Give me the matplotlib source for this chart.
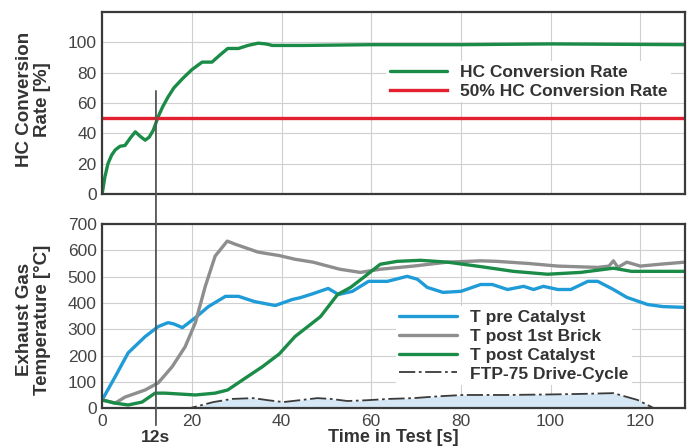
import numpy as np
import matplotlib.pyplot as plt
from matplotlib.patches import ConnectionPatch

plt.rcParams['font.family'] = ['Liberation Sans', 'DejaVu Sans']

# HC conversion rate over the test
t_hc = [0, 0.6, 1.3, 2.1, 2.9, 4, 5.1, 6.3, 7.4, 8.5, 9.6, 10.5, 11.4, 12.5, 13.5, 14.7, 16,
        17.9, 20, 22.3, 24.5, 26, 28, 30.4, 32.5, 34.8, 36.5, 38, 45, 60, 80, 100, 130]
hc_rate = [0, 11, 20, 25.5, 29, 31.5, 32, 37, 41, 38, 35.5, 37.5, 42, 51, 57.5, 64, 70,
           76, 82, 87, 87, 91, 96, 96, 98, 99.5, 99, 98, 98, 98.5, 98.5, 99, 98.5]
hc_target = 50

# exhaust gas temperatures
t_pre = [0, 2.9, 5.8, 9.6, 12.5, 14.7, 16, 17.9, 20.8, 23.7, 27.5, 30.4, 34, 38.6, 42.4,
         44.2, 47, 50.4, 52.7, 55.8, 59.4, 63.6, 68, 70.3, 72.5, 76, 80, 84.4, 87, 90.4,
         94, 96.2, 98.4, 101.6, 104.5, 108.3, 110.5, 114, 117, 121.6, 125, 130]
T_pre = [31, 119, 210, 272, 310, 325, 320, 306, 344, 386, 425, 425, 405, 390, 413,
         420, 435, 455, 432, 444, 482, 482, 501, 490, 459, 440, 444, 470, 470, 451,
         463, 451, 463, 451, 451, 482, 482, 451, 421, 394, 386, 383]

t_brick = [0, 2.9, 5.1, 9.6, 12.5, 15.6, 18.5, 20.8, 23, 25.2, 27.9, 29.7, 34.8, 39.5,
           43, 47, 53, 57.6, 62, 69.4, 77, 84.4, 88, 95, 101.6, 110.5, 113, 114, 115,
           117, 120, 125, 130]
T_brick = [31, 19, 42, 69, 96, 157, 233, 325, 463, 578, 635, 623, 593, 580,
           566, 555, 528, 516, 528, 540, 555, 560, 558, 550, 540, 535, 540, 560, 535,
           555, 540, 548, 555]

t_post = [0, 2.9, 5.8, 8.9, 11.8, 14, 20.8, 25.2, 28, 32, 35.7, 39.5, 43, 48.7, 52.5,
          55.4, 58.3, 62, 65.8, 71, 77, 84.4, 91.7, 99.3, 106.7, 114, 118, 130]
T_post = [31, 19, 12, 23, 57, 57, 50, 57, 69, 115, 157, 206, 272, 348, 432,
          459, 497, 547, 558, 562, 555, 538, 520, 509, 516, 532, 520, 520]

# FTP-75 drive cycle (scaled)
t_ftp = [0, 19.6, 24.8, 29, 33.7, 37, 40.4, 44, 48, 51, 54.7, 59, 64, 69.4, 75, 80.6,
         90, 100, 106.7, 114, 119.4, 123]
ftp = [0, 0, 23, 35, 38, 30, 23, 30, 38, 35, 27, 30, 35, 38, 45, 50,
       50, 52, 54, 57, 31, 0]

t_mark = 12

green = '#1b8c47'
red = '#e3202f'
blue = '#1f9bd7'
grey = '#8e8e8e'
dark = '#3a3a3a'
txt_col = '#333333'

fig = plt.figure(figsize=(6.9, 4.48), dpi=100)
ax1 = fig.add_axes([0.148, 0.567, 0.845, 0.406])
ax2 = fig.add_axes([0.148, 0.089, 0.845, 0.411])

for ax in (ax1, ax2):
    ax.set_xlim(0, 130)
    ax.set_xticks(np.arange(0, 140, 20))
    ax.grid(True, color='#cfcfcf', linewidth=0.8)
    ax.set_axisbelow(True)
    for s in ax.spines.values():
        s.set_linewidth(1.6)
        s.set_color(dark)
    ax.tick_params(length=0, labelsize=12.5, labelcolor='#444444', pad=4)

line_kw = dict(lw=2.4, solid_joinstyle='round', solid_capstyle='round')
leg_kw = dict(loc='center left', frameon=True, edgecolor='none', facecolor='white',
              framealpha=1, fancybox=False, handlelength=3.3, handletextpad=0.75,
              labelspacing=0.22, borderpad=0.2, borderaxespad=0,
              prop={'weight': 'bold', 'size': 12.5})

# top: conversion rate
ax1.plot(t_hc, hc_rate, color=green, label='HC Conversion Rate', **line_kw)
ax1.axhline(hc_target, color=red, lw=2.4, label='50% HC Conversion Rate')
ax1.set_ylim(0, 120)
ax1.set_yticks(np.arange(0, 120, 20))
ax1.set_xticklabels([])
ax1.set_ylabel('HC Conversion\nRate [%]', fontsize=13.5, fontweight='bold', color=txt_col,
               linespacing=1.1)
ax1.yaxis.set_label_coords(-0.088, 0.52)
leg1 = ax1.legend(bbox_to_anchor=(0.487, 0.616), **leg_kw)
for t in leg1.get_texts():
    t.set_color(txt_col)

# bottom: temperatures
ax2.fill_between(t_ftp, ftp, 0, color='#d5e7f5', lw=0)
ax2.plot(t_pre, T_pre, color=blue, label='T pre Catalyst', **line_kw)
ax2.plot(t_brick, T_brick, color=grey, label='T post 1st Brick', **line_kw)
ax2.plot(t_post, T_post, color=green, label='T post Catalyst', **line_kw)
ax2.plot(t_ftp, ftp, color=dark, lw=1.3, ls=(0, (9, 2, 1.5, 2)), label='FTP-75 Drive-Cycle')
ax2.set_ylim(0, 700)
ax2.set_yticks(np.arange(0, 800, 100))
ax2.set_ylabel('Exhaust Gas\nTemperature [°C]', fontsize=13.5, fontweight='bold',
               color=txt_col, linespacing=1.1)
ax2.yaxis.set_label_coords(-0.088, 0.48)
ax2.set_xlabel('Time in Test [s]', fontsize=13, fontweight='bold', color=txt_col, labelpad=0)
leg2 = ax2.legend(bbox_to_anchor=(0.504, 0.34), **leg_kw)
for t in leg2.get_texts():
    t.set_color(txt_col)

# 12 s marker running through both panels
con = ConnectionPatch(xyA=(t_mark, 68), coordsA=ax1.transData,
                      xyB=(t_mark, -65), coordsB=ax2.transData,
                      color='#555555', lw=1.3)
fig.add_artist(con)
ax2.text(t_mark, -112, '12s', ha='center', va='center', fontsize=12.5,
         fontweight='bold', color=txt_col, clip_on=False)

fig.savefig('out.png', dpi=100)
